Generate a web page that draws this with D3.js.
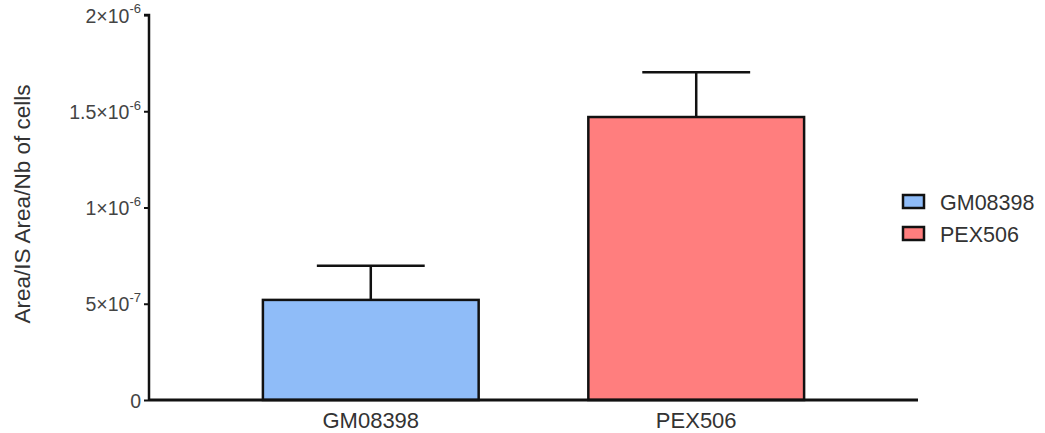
<!DOCTYPE html>
<html><head><meta charset="utf-8">
<script src="https://cdn.jsdelivr.net/npm/d3@7"></script>
<style>body{margin:0;background:#fff}svg{display:block}text{font-family:Arial,"Liberation Sans",sans-serif}</style>
</head><body><svg id="c" width="1045" height="433"></svg>
<script>
const categories = ["GM08398", "PEX506"];
const means = [5.2e-7, 1.47e-6];
const errors = [1.78e-7, 2.33e-7];
const colors = ["#8fbcf8", "#ff7e7e"];
const yTicks = [0, 5e-7, 1e-6, 1.5e-6, 2e-6];
const yTickLabels = [["0",""], ["5×10","-7"], ["1×10","-6"], ["1.5×10","-6"], ["2×10","-6"]];
const yTitle = "Area/IS Area/Nb of cells";

(function(){
const svg = d3.select("#c");
const mLeft = 149, mRight = 918, mTop = 15, mBottom = 400;
const y = d3.scaleLinear().domain([0, 2e-6]).range([mBottom, mTop]);
const x = d3.scaleBand().domain(categories).range([mLeft, mRight]).paddingInner(0.337).paddingOuter(0.35);

const g = svg.append("g");
categories.forEach((c, i) => {
  const cx = x(c) + x.bandwidth() / 2;
  const capW = x.bandwidth() / 2;
  g.append("line").attr("x1", cx).attr("x2", cx).attr("y1", y(means[i])).attr("y2", y(means[i] + errors[i]))
    .attr("stroke", "#111").attr("stroke-width", 2.5);
  g.append("line").attr("x1", cx - capW / 2).attr("x2", cx + capW / 2).attr("y1", y(means[i] + errors[i])).attr("y2", y(means[i] + errors[i]))
    .attr("stroke", "#111").attr("stroke-width", 2.5);
  g.append("rect").attr("x", x(c)).attr("y", y(means[i])).attr("width", x.bandwidth()).attr("height", mBottom - y(means[i]))
    .attr("fill", colors[i]).attr("stroke", "#111").attr("stroke-width", 2.5);
});

const ya = svg.append("g").attr("transform", `translate(${mLeft},0)`)
  .call(d3.axisLeft(y).tickValues(yTicks).tickSize(5).tickFormat(""));
ya.select(".domain").attr("stroke", "#111").attr("stroke-width", 2.5).attr("d", `M-5,${mTop}H0V${mBottom}`);
ya.selectAll(".tick line").attr("stroke", "#111").attr("stroke-width", 2);
ya.selectAll(".tick").each(function(d, i) {
  const t = d3.select(this).append("text").attr("x", -8).attr("dy", "0.36em").attr("text-anchor", "end")
    .attr("fill", "#444").attr("font-size", 19.5);
  t.append("tspan").text(yTickLabels[i][0]);
  if (yTickLabels[i][1]) t.append("tspan").attr("font-size", 13).attr("dy", "-0.7em").text(yTickLabels[i][1]);
});

const xa = svg.append("g").attr("transform", `translate(0,${mBottom})`)
  .call(d3.axisBottom(x).tickSize(0));
xa.select(".domain").attr("stroke", "#111").attr("stroke-width", 3).attr("d", `M${mLeft},0H${mRight}`);
xa.selectAll(".tick text").attr("font-size", 22).attr("fill", "#333").attr("dy", "1.15em");

svg.append("text").attr("transform", `translate(30,204) rotate(-90)`).attr("text-anchor", "middle")
  .attr("font-size", 22.5).attr("fill", "#333").text(yTitle);

const lg = svg.append("g").attr("transform", "translate(903,195)");
categories.forEach((c, i) => {
  const row = lg.append("g").attr("transform", `translate(0,${i * 32})`);
  row.append("rect").attr("width", 21).attr("height", 13).attr("fill", colors[i]).attr("stroke", "#111").attr("stroke-width", 2.5);
  row.append("text").attr("x", 37).attr("y", 7).attr("dy", "0.36em").attr("font-size", 21.5).attr("fill", "#333").text(c);
});
})();
</script></body></html>
